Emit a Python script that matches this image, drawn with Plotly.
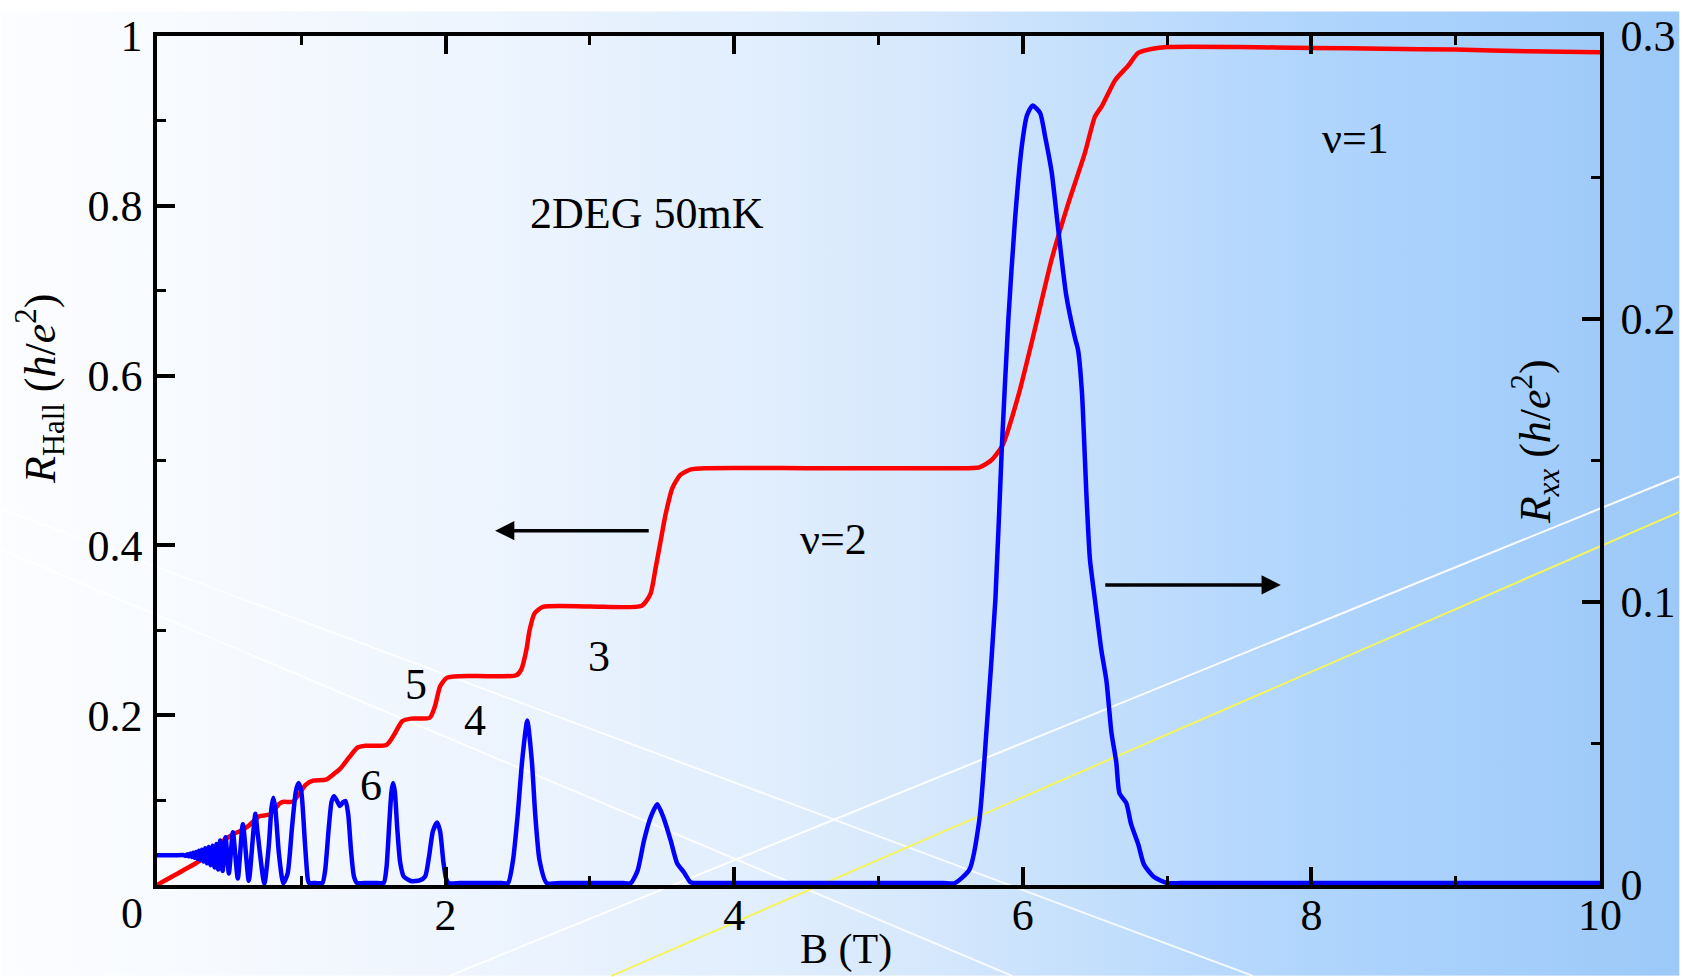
import base64
import plotly.graph_objects as go

# ---------------- data ----------------
B_hall = [0.0, 0.18, 0.30, 0.41, 0.53, 0.58, 0.63, 0.68, 0.71, 0.78, 0.81, 0.85, 0.88, 0.94,
          0.98, 1.03, 1.08, 1.17, 1.22, 1.27, 1.33, 1.39, 1.45, 1.59, 1.64, 1.70, 1.76, 1.89,
          1.927, 1.962, 2.008, 2.10, 2.30, 2.49, 2.525, 2.56, 2.582, 2.617, 2.674, 3.00, 3.36,
          3.42, 3.456, 3.49, 3.524, 3.57, 3.627, 3.70, 3.80, 4.5, 5.0, 5.5, 5.70, 5.78, 5.86,
          5.97, 6.08, 6.20, 6.31, 6.43, 6.50, 6.55, 6.64, 6.73, 6.80, 6.90, 7.00, 7.5, 8.0,
          8.5, 9.0, 9.5, 10.0]
R_hall = [0.0, 0.017, 0.029, 0.046, 0.060, 0.064, 0.069, 0.077, 0.081, 0.083, 0.088, 0.096, 0.098, 0.098,
          0.106, 0.118, 0.123, 0.124, 0.130, 0.137, 0.150, 0.162, 0.164, 0.165, 0.176, 0.193, 0.196, 0.197,
          0.211, 0.234, 0.244, 0.246, 0.246, 0.247, 0.254, 0.277, 0.300, 0.320, 0.3275, 0.328, 0.329,
          0.343, 0.374, 0.405, 0.436, 0.467, 0.483, 0.4895, 0.491, 0.491, 0.491, 0.491, 0.492, 0.500, 0.518,
          0.577, 0.652, 0.737, 0.800, 0.862, 0.905, 0.918, 0.948, 0.965, 0.980, 0.985, 0.987, 0.987, 0.986,
          0.985, 0.984, 0.982, 0.981]

B_xx = [0.00, 0.12, 0.18, 0.20, 0.21, 0.22, 0.23, 0.24, 0.25, 0.26, 0.27, 0.28, 0.29, 0.30,
        0.311, 0.322, 0.334, 0.346, 0.358, 0.371, 0.385, 0.398, 0.411, 0.424, 0.438, 0.455,
        0.475, 0.498, 0.526, 0.560, 0.595, 0.636, 0.668, 0.682, 0.696, 0.744, 0.775, 0.793,
        0.806, 0.820, 0.845, 0.875, 0.905, 0.935, 0.962, 0.981, 1.000, 1.025, 1.045, 1.054,
        1.100, 1.146, 1.165, 1.190, 1.210, 1.227, 1.245, 1.268, 1.290, 1.307, 1.325, 1.345, 1.365,
        1.387, 1.430, 1.480, 1.530, 1.571, 1.590, 1.610, 1.625, 1.636, 1.648, 1.665, 1.685, 1.710,
        1.760, 1.820, 1.858, 1.885, 1.912, 1.941, 1.962, 1.985, 2.005, 2.020, 2.10, 2.20, 2.30,
        2.39, 2.433, 2.467, 2.500, 2.530, 2.566, 2.598, 2.621, 2.651, 2.700, 2.80, 2.95, 3.10,
        3.23, 3.283, 3.330, 3.375, 3.420, 3.467, 3.510, 3.560, 3.604, 3.650, 3.696, 3.720,
        3.80, 4.00, 4.30, 4.60, 4.90, 5.20, 5.45, 5.530, 5.630, 5.700, 5.750, 5.810, 5.855,
        5.900, 5.947, 5.993, 6.028, 6.067, 6.120, 6.154, 6.200, 6.245, 6.300, 6.360, 6.383,
        6.410, 6.430, 6.440, 6.465, 6.500, 6.545, 6.580, 6.614, 6.648, 6.670, 6.717, 6.750,
        6.800, 6.840, 6.910, 7.000, 7.10, 7.40, 7.80, 8.20, 8.60, 9.00, 9.40, 9.80, 10.00]
R_xx = [0.0105, 0.0105, 0.0106, 0.0103, 0.0109, 0.0101, 0.0111, 0.0099, 0.0114, 0.0096, 0.0117, 0.0092, 0.0121, 0.0088,
        0.0125, 0.0083, 0.0130, 0.0077, 0.0134, 0.0070, 0.0139, 0.0062, 0.0145, 0.0055, 0.0157, 0.0050,
        0.0169, 0.0041, 0.0186, 0.0023, 0.0215, 0.0015, 0.0190, 0.0252, 0.0190, 0.0004, 0.0140, 0.0270,
        0.0308, 0.0270, 0.0110, 0.0006, 0.0040, 0.0200, 0.0330, 0.0360, 0.0330, 0.0150, 0.0020, 0.0007,
        0.0007, 0.0007, 0.0050, 0.0200, 0.0295, 0.0314, 0.0300, 0.0279, 0.0293, 0.0297, 0.0250, 0.0120, 0.0030,
        0.0007, 0.0007, 0.0007, 0.0007, 0.0007, 0.0060, 0.0220, 0.0330, 0.0360, 0.0330, 0.0200, 0.0080, 0.0030,
        0.0014, 0.0016, 0.0030, 0.0100, 0.0190, 0.0221, 0.0190, 0.0080, 0.0020, 0.0007, 0.0007, 0.0007, 0.0007,
        0.0007, 0.0007, 0.0087, 0.0250, 0.0436, 0.0581, 0.0436, 0.0250, 0.0087, 0.0007, 0.0007, 0.0007, 0.0007,
        0.0007, 0.0007, 0.0050, 0.0157, 0.0238, 0.0285, 0.0238, 0.0157, 0.0077, 0.0046, 0.0010, 0.0007,
        0.0007, 0.0007, 0.0007, 0.0007, 0.0007, 0.0007, 0.0007, 0.0007, 0.0054, 0.0234, 0.0558, 0.1008, 0.1549,
        0.2000, 0.2358, 0.2610, 0.2718, 0.2754, 0.2728, 0.2646, 0.2519, 0.2320, 0.2087, 0.1936, 0.1890,
        0.1740, 0.1510, 0.1390, 0.1152, 0.1008, 0.0828, 0.0720, 0.0540, 0.0433, 0.0324, 0.0290, 0.0216,
        0.0144, 0.0072, 0.0028, 0.0007, 0.0007, 0.0007, 0.0007, 0.0007, 0.0007, 0.0007, 0.0007, 0.0007, 0.0007]

x_tick_vals = [2, 4, 6, 8, 10]
x_tick_text = ["2", "4", "6", "8", "10"]
x_minor_vals = [1, 3, 5, 7, 9]
yl_tick_vals = [0.2, 0.4, 0.6, 0.8, 1.0]
yl_tick_text = ["0.2", "0.4", "0.6", "0.8", "1"]
yl_minor_vals = [0.1, 0.3, 0.5, 0.7, 0.9]
yr_tick_vals = [0.0, 0.1, 0.2, 0.3]
yr_tick_text = ["0", "0.1", "0.2", "0.3"]
yr_minor_vals = [0.05, 0.15, 0.25]

# ---------------- geometry / style ----------------
W, H = 1688, 977
ML, MR, MT, MB = 157, 80, 25, 92
PW, PH = W - ML - MR, H - MT - MB
FONT = "Liberation Serif"
FS = 44


def paper(px, py):
    return (px - ML) / PW, (H - MB - py) / PH


fig = go.Figure()
fig.add_trace(go.Scatter(x=B_hall, y=R_hall, mode="lines", yaxis="y",
                         line=dict(color="#ff0000", width=4.5, shape="spline", smoothing=0.6),
                         showlegend=False, hoverinfo="skip"))
fig.add_trace(go.Scatter(x=B_xx, y=R_xx, mode="lines", yaxis="y2",
                         line=dict(color="#0000ff", width=4.5, shape="spline", smoothing=0.6),
                         showlegend=False, hoverinfo="skip"))

# background gradient (svg image)
stops = [(0.00, "#fcfdff"), (0.15, "#f5f9fe"), (0.30, "#ecf4fe"), (0.45, "#e1eefd"),
         (0.55, "#d6e8fc"), (0.62, "#c9e2fc"), (0.70, "#bcdbfd"), (0.78, "#b0d5fd"),
         (0.85, "#a9d1fc"), (0.92, "#a3cdfa"), (1.00, "#9cc9f8")]
stop_xml = "".join(f'<stop offset="{o}" stop-color="{c}"/>' for o, c in stops)
svg = (f'<svg xmlns="http://www.w3.org/2000/svg" width="{W}" height="{H}" viewBox="0 0 {W} {H}" '
       f'preserveAspectRatio="none"><defs><linearGradient id="g" x1="0" y1="0" x2="1" y2="0">'
       f'{stop_xml}</linearGradient></defs><rect width="{W}" height="{H}" fill="url(#g)"/></svg>')
src = "data:image/svg+xml;base64," + base64.b64encode(svg.encode()).decode()
x0p, y0p = paper(0, 0)
fig.add_layout_image(dict(source=src, xref="paper", yref="paper", x=x0p, y=y0p,
                          sizex=W / PW, sizey=H / PH, xanchor="left", yanchor="top",
                          sizing="stretch", layer="below"))

# decorative background lines
deco = [((0, 504), (1259, 977), "rgba(255,255,255,0.85)", 2),
        ((0, 545), (1017, 977), "rgba(255,255,255,0.85)", 2),
        ((451, 977), (1688, 471), "rgba(255,255,255,0.95)", 2),
        ((614, 977), (1688, 507), "#f5f55a", 2)]
for (a, b, col, w) in deco:
    xa, ya = paper(*a)
    xb, yb = paper(*b)
    fig.add_shape(type="line", xref="paper", yref="paper", x0=xa, y0=ya, x1=xb, y1=yb,
                  line=dict(color=col, width=w), layer="below")

annos = []


def text_at(txt, px, py, size=FS, angle=0):
    xp, yp = paper(px, py)
    annos.append(dict(text=txt, x=xp, y=yp, xref="paper", yref="paper", showarrow=False,
                      xanchor="center", yanchor="middle", textangle=angle,
                      font=dict(family=FONT, size=size, color="black")))


text_at("2DEG 50mK", 650, 205)
text_at("ν=1", 1362, 129)
text_at("ν=2", 837, 535)
text_at("3", 601, 654)
text_at("4", 477, 718)
text_at("5", 417, 682)
text_at("6", 372, 784)
text_at("0", 132, 914)
text_at("B (T)", 850, 950, size=42)
text_at("<i>R</i><sub>Hall</sub> (<i>h</i>/<i>e</i><sup>2</sup>)", 40, 383, size=44, angle=-90)
text_at("<i>R<sub>xx</sub></i> (<i>h</i>/<i>e</i><sup>2</sup>)", 1543, 436, size=44, angle=-90)

# arrows
for tip, tail, yv in [(2.343, 3.418, 0.4174), (7.788, 6.561, 0.3535)]:
    annos.append(dict(x=tip, y=yv, ax=tail, ay=yv, xref="x", yref="y", axref="x", ayref="y",
                      text="", showarrow=True, arrowhead=2, arrowsize=1.1, arrowwidth=3.5,
                      arrowcolor="black", standoff=0, startstandoff=0))

tickfont = dict(family=FONT, size=FS, color="black")
common = dict(showline=True, linecolor="black", linewidth=3.5, ticks="inside", ticklen=18,
              tickwidth=3.5, tickcolor="black", showgrid=False, zeroline=False,
              tickfont=tickfont, tickmode="array")

fig.update_layout(
    width=W, height=H, autosize=False,
    margin=dict(l=ML, r=MR, t=MT, b=MB, pad=0),
    paper_bgcolor="white", plot_bgcolor="rgba(0,0,0,0)",
    annotations=annos,
    xaxis=dict(range=[0, 10], mirror="ticks", tickvals=x_tick_vals, ticktext=x_tick_text,
               ticklabelstandoff=-12,
               minor=dict(tickmode="array", tickvals=x_minor_vals, ticks="inside", ticklen=9,
                          tickwidth=3, tickcolor="black"), **common),
    yaxis=dict(range=[0, 1], tickvals=yl_tick_vals, ticktext=yl_tick_text, ticklabelstandoff=2,
               minor=dict(tickmode="array", tickvals=yl_minor_vals, ticks="inside", ticklen=9,
                          tickwidth=3, tickcolor="black"), **common),
    yaxis2=dict(range=[0, 0.3], overlaying="y", side="right", anchor="x", tickvals=yr_tick_vals,
                ticktext=yr_tick_text, ticklabelstandoff=8,
                minor=dict(tickmode="array", tickvals=yr_minor_vals, ticks="inside", ticklen=9,
                           tickwidth=3, tickcolor="black"), **common),
)

fig.write_html("out.html", config={"displayModeBar": False},
               post_script="document.body.style.margin='0px';")
